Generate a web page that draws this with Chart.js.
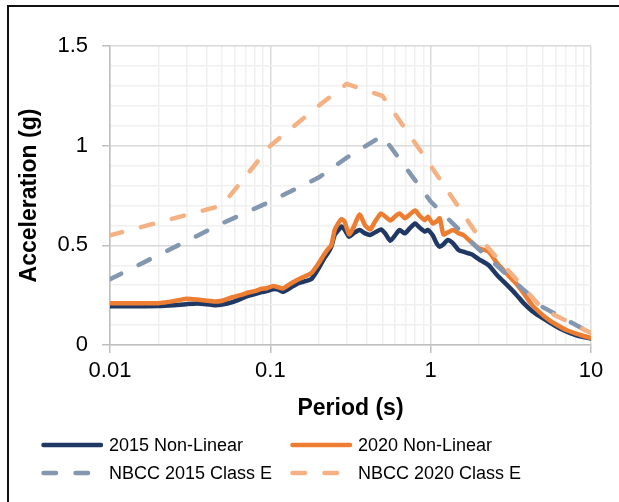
<!DOCTYPE html>
<html>
<head>
<meta charset="utf-8">
<script src="https://cdn.jsdelivr.net/npm/chart.js@4"></script>
<style>
  html, body { margin: 0; padding: 0; background: #fff; }
  #wrap { position: relative; width: 619px; height: 502px; overflow: hidden; font-family: "Liberation Sans", Arial, sans-serif; }
  #chart { position: absolute; left: 0; top: 0; }
  #frame { position: absolute; left: 7px; top: 5px; width: 700px; height: 600px; border-left: 2px solid #111; border-top: 2px solid #111; pointer-events: none; }
  #legend { position: absolute; left: 0; top: 431px; width: 619px; font-size: 18px; color: #000; }
  .item { position: absolute; display: flex; align-items: center; height: 28px; }
  .item svg { margin-right: 6px; }
</style>
</head>
<body>
<div id="wrap">
  <canvas id="chart" width="619" height="502"></canvas>
  <div id="frame"></div>
  <div id="legend"></div>
</div>
<script>
// Period values (s) used for the non-linear spectra
const periods = [0.01, 0.015, 0.02, 0.025, 0.03, 0.035, 0.04, 0.045, 0.05, 0.058, 0.065, 0.072, 0.08, 0.088, 0.095,
  0.104, 0.112, 0.12, 0.135, 0.15, 0.165, 0.18, 0.2, 0.215, 0.228, 0.24, 0.252, 0.265, 0.278, 0.29, 0.31, 0.33,
  0.36, 0.39, 0.42, 0.45, 0.49, 0.52, 0.56, 0.6, 0.64, 0.69, 0.74, 0.8, 0.85, 0.92, 0.96, 1.03, 1.09, 1.14, 1.2,
  1.28, 1.38, 1.5, 1.6, 1.8, 2.0, 2.3, 2.6, 3.0, 3.4, 3.8, 4.3, 5.0, 5.6, 6.3, 7.0, 8.0, 9.0, 10];

const nonLinear2015 = [0.195, 0.195, 0.196, 0.2, 0.205, 0.208, 0.205, 0.2, 0.203, 0.215, 0.23, 0.245, 0.255, 0.265, 0.27,
  0.28, 0.278, 0.267, 0.29, 0.31, 0.32, 0.33, 0.385, 0.43, 0.46, 0.493, 0.552, 0.575, 0.594, 0.58, 0.543, 0.56,
  0.577, 0.56, 0.552, 0.565, 0.58, 0.56, 0.523, 0.55, 0.577, 0.56, 0.585, 0.61, 0.59, 0.569, 0.577, 0.55, 0.51, 0.493, 0.505,
  0.527, 0.51, 0.475, 0.468, 0.455, 0.43, 0.4, 0.35, 0.3, 0.255, 0.21, 0.17, 0.135, 0.11, 0.085, 0.068, 0.05, 0.04, 0.032];

const nonLinear2020 = [0.21, 0.21, 0.21, 0.22, 0.232, 0.228, 0.222, 0.218, 0.222, 0.24, 0.25, 0.262, 0.27, 0.282, 0.285,
  0.296, 0.29, 0.284, 0.31, 0.33, 0.345, 0.36, 0.41, 0.45, 0.48, 0.5, 0.577, 0.61, 0.631, 0.62, 0.555, 0.59,
  0.655, 0.6, 0.58, 0.62, 0.66, 0.645, 0.625, 0.645, 0.66, 0.636, 0.655, 0.675, 0.65, 0.627, 0.644, 0.61, 0.62, 0.636, 0.555,
  0.565, 0.577, 0.56, 0.552, 0.515, 0.485, 0.468, 0.41, 0.355, 0.31, 0.26, 0.2, 0.15, 0.12, 0.095, 0.075, 0.058, 0.045, 0.035];

// NBCC design spectra
const nbccPeriods = [0.01, 0.05, 0.1, 0.2, 0.3, 0.5, 1, 2, 5, 10];
const nbcc2015 = [0.33, 0.61, 0.72, 0.84, 0.94, 1.05, 0.72, 0.48, 0.19, 0.06];
const nbcc2020 = [0.55, 0.70, 1.0, 1.2, 1.31, 1.25, 0.9, 0.54, 0.18, 0.06];

const decades = [0.01, 0.1, 1, 10];
const xTicks = [];
decades.forEach(function(d) {
  for (let m = 1; m <= 9; m++) {
    if (d === 10 && m > 1) break;
    xTicks.push(d * m);
  }
});

function pts(xs, ys) {
  return xs.map(function(x, i) { return { x: x, y: ys[i] }; });
}
function isDecade(v) {
  const l = Math.log10(v);
  return Math.abs(l - Math.round(l)) < 1e-6;
}
function isHalf(v) {
  return Math.abs(v * 2 - Math.round(v * 2)) < 1e-6;
}

const majorGrid = '#d9d9d9';
const minorGrid = '#f0f0f0';
const tickFont = { family: '"Liberation Sans", Arial, sans-serif', size: 22 };
const titleFont = { family: '"Liberation Sans", Arial, sans-serif', size: 23, weight: 'bold' };

const datasets = [
  { label: '2015 Non-Linear', data: pts(periods, nonLinear2015), borderColor: '#203864', borderWidth: 4.5, tension: 0.2, order: 3 },
  { label: '2020 Non-Linear', data: pts(periods, nonLinear2020), borderColor: '#ed7d31', borderWidth: 4.5, tension: 0.2, order: 2 },
  { label: 'NBCC 2015 Class E', data: pts(nbccPeriods, nbcc2015), borderColor: '#8497b0', borderWidth: 4.5, borderDash: [12.5, 19.5], order: 1 },
  { label: 'NBCC 2020 Class E', data: pts(nbccPeriods, nbcc2020), borderColor: '#f4b183', borderWidth: 4.5, borderDash: [12.5, 19.5], order: 0 }
];
datasets.forEach(function(d) {
  d.pointRadius = 0;
  d.fill = false;
  d.borderCapStyle = 'round';
  d.borderJoinStyle = 'round';
});

const ctx = document.getElementById('chart').getContext('2d');
const chart = new Chart(ctx, {
  type: 'line',
  data: { datasets: datasets },
  options: {
    responsive: false,
    animation: false,
    devicePixelRatio: 1,
    layout: { padding: { top: 46, right: 28, bottom: 72, left: 0 } },
    plugins: { legend: { display: false }, tooltip: { enabled: false } },
    scales: {
      x: {
        type: 'logarithmic',
        min: 0.01,
        max: 10,
        afterBuildTicks: function(scale) {
          scale.ticks = xTicks.map(function(v) { return { value: v }; });
        },
        afterFit: function(scale) { scale.height = 85; },
        ticks: {
          autoSkip: false,
          maxRotation: 0,
          padding: 5,
          color: '#000',
          font: tickFont,
          callback: function(value) { return isDecade(value) ? String(value) : ''; }
        },
        grid: {
          lineWidth: 1.5,
          tickLength: 8,
          color: function(c) { return c.tick && isDecade(c.tick.value) ? majorGrid : minorGrid; },
          tickColor: function(c) { return c.tick && isDecade(c.tick.value) ? '#bfbfbf' : 'rgba(0,0,0,0)'; }
        },
        border: { color: '#bfbfbf', width: 1.5 },
        title: { display: true, text: 'Period (s)', color: '#000', font: titleFont, padding: { top: 0, bottom: 8 } }
      },
      y: {
        min: 0,
        max: 1.5,
        afterFit: function(scale) { scale.width = 110; },
        ticks: {
          stepSize: 0.1,
          autoSkip: false,
          padding: 14,
          color: '#000',
          font: tickFont,
          callback: function(value) {
            const v = Math.round(value * 10) / 10;
            return isHalf(v) ? String(v) : '';
          }
        },
        grid: {
          lineWidth: 1.5,
          tickLength: 8,
          color: function(c) { return c.tick && isHalf(c.tick.value) ? majorGrid : minorGrid; },
          tickColor: function(c) { return c.tick && isHalf(c.tick.value) ? '#bfbfbf' : 'rgba(0,0,0,0)'; }
        },
        border: { color: '#bfbfbf', width: 1.5 },
        title: { display: true, text: 'Acceleration (g)', color: '#000', font: titleFont, padding: { top: 16, bottom: 0 } }
      }
    }
  }
});

// Legend in two aligned columns, built from the datasets
const legendPos = [
  { left: 41, top: 0 }, { left: 290, top: 0 },
  { left: 41, top: 28 }, { left: 290, top: 28 }
];
const legendEl = document.getElementById('legend');
chart.data.datasets.forEach(function(ds, i) {
  const item = document.createElement('div');
  item.className = 'item';
  item.style.left = legendPos[i].left + 'px';
  item.style.top = legendPos[i].top + 'px';
  const dash = ds.borderDash ? ' stroke-dasharray="' + ds.borderDash.join(' ') + '"' : '';
  item.innerHTML = '<svg width="62" height="10"><line x1="2.5" y1="5" x2="60" y2="5" stroke="' + ds.borderColor +
    '" stroke-width="4.5" stroke-linecap="round"' + dash + '/></svg><span>' + ds.label + '</span>';
  legendEl.appendChild(item);
});
</script>
</body>
</html>
